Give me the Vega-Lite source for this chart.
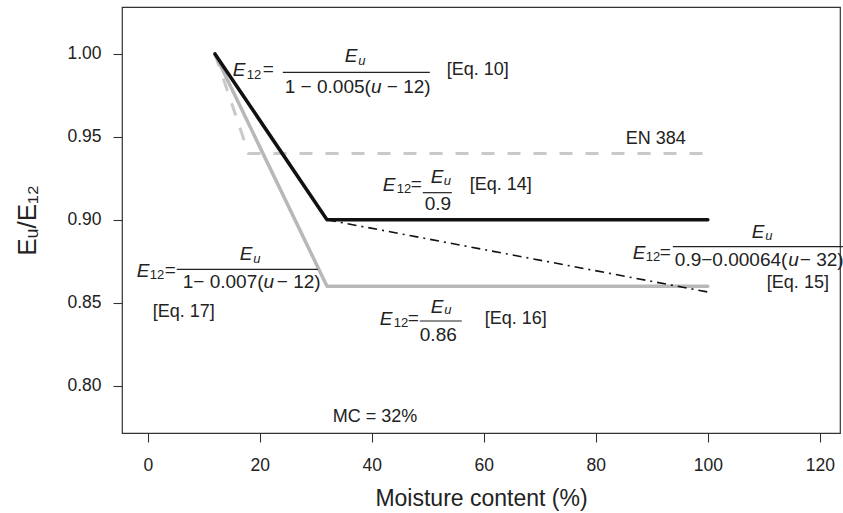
{
  "$schema": "https://vega.github.io/schema/vega-lite/v6.json",
  "width": 718,
  "height": 426,
  "autosize": {"type": "none"},
  "padding": {"left": 122, "top": 7, "right": 3, "bottom": 80},
  "background": "white",
  "config": {
    "view": {"stroke": "#333", "strokeWidth": 1.2},
    "font": "Liberation Sans",
    "axis": {
      "grid": false, "domain": false, "ticks": true, "tickColor": "#333", "tickSize": 9, "tickWidth": 1.1,
      "labelFont": "Liberation Sans", "labelFontSize": 17.5, "labelColor": "#222", "labelFlush": false,
      "titleFont": "Liberation Sans", "titleFontWeight": "normal", "titleColor": "#222"
    }
  },
  "datasets": {
    "lines": [
      {"s": "gray", "u": 12, "r": 1.0}, {"s": "gray", "u": 32, "r": 0.86}, {"s": "gray", "u": 100, "r": 0.86},
      {"s": "en", "u": 12, "r": 1.0}, {"s": "en", "u": 18, "r": 0.94}, {"s": "en", "u": 100, "r": 0.94},
      {"s": "black", "u": 12, "r": 1.0}, {"s": "black", "u": 32, "r": 0.9}, {"s": "black", "u": 100, "r": 0.9},
      {"s": "dd", "u": 32, "r": 0.9}, {"s": "dd", "u": 100, "r": 0.8565}
    ],
    "bars": [
      {"u": 24.11, "u2": 50.36, "r": 0.98885},
      {"u": 49.11, "u2": 54.29, "r": 0.91637},
      {"u": 5.18, "u2": 30.36, "r": 0.87018},
      {"u": 48.57, "u2": 56.07, "r": 0.83901},
      {"u": 93.75, "u2": 124.11, "r": 0.88381}
    ],
    "tx": [
      {"k": "Ei", "t": "E", "u": 15.18, "r": 0.99035},
      {"k": "s", "t": "12", "u": 17.68, "r": 0.98734},
      {"k": "m", "t": "=", "u": 20.54, "r": 0.99096},
      {"k": "Ei", "t": "E", "u": 35.18, "r": 0.99879},
      {"k": "ui", "t": "u", "u": 37.59, "r": 0.99578},
      {"k": "m", "t": "1 − 0.005(", "u": 24.46, "r": 0.98010},
      {"k": "Ei", "t": "u", "u": 39.84, "r": 0.98010},
      {"k": "m", "t": "− 12)", "u": 42.68, "r": 0.98010},
      {"k": "l", "t": "[Eq. 10]", "u": 53.39, "r": 0.99035},

      {"k": "Ei", "t": "E", "u": 41.96, "r": 0.92101},
      {"k": "s", "t": "12", "u": 44.46, "r": 0.91860},
      {"k": "m", "t": "=", "u": 46.96, "r": 0.92162},
      {"k": "Ei", "t": "E", "u": 50.54, "r": 0.92584},
      {"k": "ui", "t": "u", "u": 52.86, "r": 0.92343},
      {"k": "m", "t": "0.9", "u": 49.46, "r": 0.90956},
      {"k": "l", "t": "[Eq. 14]", "u": 57.5, "r": 0.92101},

      {"k": "Ei", "t": "E", "u": -1.96, "r": 0.86934},
      {"k": "s", "t": "12", "u": 0.36, "r": 0.86675},
      {"k": "m", "t": "=", "u": 3.04, "r": 0.87006},
      {"k": "Ei", "t": "E", "u": 16.43, "r": 0.87941},
      {"k": "ui", "t": "u", "u": 18.84, "r": 0.87640},
      {"k": "m", "t": "1− 0.007(", "u": 6.25, "r": 0.86271},
      {"k": "Ei", "t": "u", "u": 20.68, "r": 0.86271},
      {"k": "m", "t": "− 12)", "u": 23.04, "r": 0.86271},
      {"k": "l", "t": "[Eq. 17]", "u": 0.89, "r": 0.84462},

      {"k": "Ei", "t": "E", "u": 41.43, "r": 0.84022},
      {"k": "s", "t": "12", "u": 43.93, "r": 0.83781},
      {"k": "m", "t": "=", "u": 46.43, "r": 0.84082},
      {"k": "Ei", "t": "E", "u": 50.54, "r": 0.84763},
      {"k": "ui", "t": "u", "u": 52.95, "r": 0.84564},
      {"k": "m", "t": "0.86", "u": 48.57, "r": 0.83057},
      {"k": "l", "t": "[Eq. 16]", "u": 60.18, "r": 0.84004},

      {"k": "Ei", "t": "E", "u": 86.61, "r": 0.88001},
      {"k": "s", "t": "12", "u": 88.93, "r": 0.87760},
      {"k": "m", "t": "=", "u": 91.43, "r": 0.88061},
      {"k": "Ei", "t": "E", "u": 107.86, "r": 0.89285},
      {"k": "ui", "t": "u", "u": 110.27, "r": 0.89026},
      {"k": "m", "t": "0.9−0.00064(", "u": 94.11, "r": 0.87579},
      {"k": "Ei", "t": "u", "u": 114.38, "r": 0.87579},
      {"k": "m", "t": "− 32)", "u": 116.43, "r": 0.87579},
      {"k": "l", "t": "[Eq. 15]", "u": 110.54, "r": 0.86200},

      {"k": "l", "t": "EN 384", "u": 85.36, "r": 0.94875},
      {"k": "l", "t": "MC = 32%", "u": 33.04, "r": 0.78113}
    ]
  },
  "encoding": {
    "x": {
      "field": "u", "type": "quantitative",
      "scale": {"domain": [-4.6, 123.6], "nice": false, "zero": false},
      "axis": {"values": [0, 20, 40, 60, 80, 100, 120], "title": "Moisture content (%)", "titleFontSize": 23, "labelPadding": 14, "titleY": 65, "titleBaseline": "middle"}
    },
    "y": {
      "field": "r", "type": "quantitative",
      "scale": {"domain": [0.7715, 1.0283], "nice": false, "zero": false},
      "axis": {"values": [0.8, 0.85, 0.9, 0.95, 1.0], "format": ".2f", "title": "Eᵤ/E₁₂", "titleFontSize": 26, "labelPadding": 12, "titleAngle": -90, "titleX": -95, "titleY": 213, "titleAlign": "center", "titleBaseline": "middle"}
    }
  },
  "layer": [
    {
      "data": {"name": "lines"},
      "transform": [{"filter": "datum.s === 'en'"}],
      "mark": {"type": "line", "color": "#c9c9c9", "strokeWidth": 3, "strokeDash": [13, 13]}
    },
    {
      "data": {"name": "lines"},
      "transform": [{"filter": "datum.s === 'gray'"}],
      "mark": {"type": "line", "color": "#b8b8b8", "strokeWidth": 3.5, "strokeCap": "round", "strokeJoin": "round"}
    },
    {
      "data": {"name": "lines"},
      "transform": [{"filter": "datum.s === 'black'"}],
      "mark": {"type": "line", "color": "#111", "strokeWidth": 3.5, "strokeCap": "round", "strokeJoin": "round"}
    },
    {
      "data": {"name": "lines"},
      "transform": [{"filter": "datum.s === 'dd'"}],
      "mark": {"type": "line", "color": "#111", "strokeWidth": 1.6, "strokeDash": [9, 5, 2, 5]}
    },
    {
      "data": {"values": [{"u": 32}]},
      "mark": {"type": "rule", "color": "#111", "strokeWidth": 1, "strokeDash": [4, 3]},
      "encoding": {"y": {"datum": 0.7715}, "y2": {"datum": 1.0283}}
    },
    {
      "data": {"name": "bars"},
      "mark": {"type": "rule", "color": "#222", "strokeWidth": 1.2},
      "encoding": {"x2": {"field": "u2"}}
    },
    {
      "data": {"name": "tx"},
      "transform": [{"filter": "datum.k === 'Ei'"}],
      "mark": {"type": "text", "align": "left", "baseline": "middle", "fontSize": 19, "fontStyle": "italic", "color": "#222"},
      "encoding": {"text": {"field": "t"}}
    },
    {
      "data": {"name": "tx"},
      "transform": [{"filter": "datum.k === 'ui'"}],
      "mark": {"type": "text", "align": "left", "baseline": "middle", "fontSize": 13, "fontStyle": "italic", "color": "#222"},
      "encoding": {"text": {"field": "t"}}
    },
    {
      "data": {"name": "tx"},
      "transform": [{"filter": "datum.k === 's'"}],
      "mark": {"type": "text", "align": "left", "baseline": "middle", "fontSize": 13, "color": "#222"},
      "encoding": {"text": {"field": "t"}}
    },
    {
      "data": {"name": "tx"},
      "transform": [{"filter": "datum.k === 'm'"}],
      "mark": {"type": "text", "align": "left", "baseline": "middle", "fontSize": 19, "color": "#222"},
      "encoding": {"text": {"field": "t"}}
    },
    {
      "data": {"name": "tx"},
      "transform": [{"filter": "datum.k === 'l'"}],
      "mark": {"type": "text", "align": "left", "baseline": "middle", "fontSize": 18, "color": "#222"},
      "encoding": {"text": {"field": "t"}}
    }
  ]
}
